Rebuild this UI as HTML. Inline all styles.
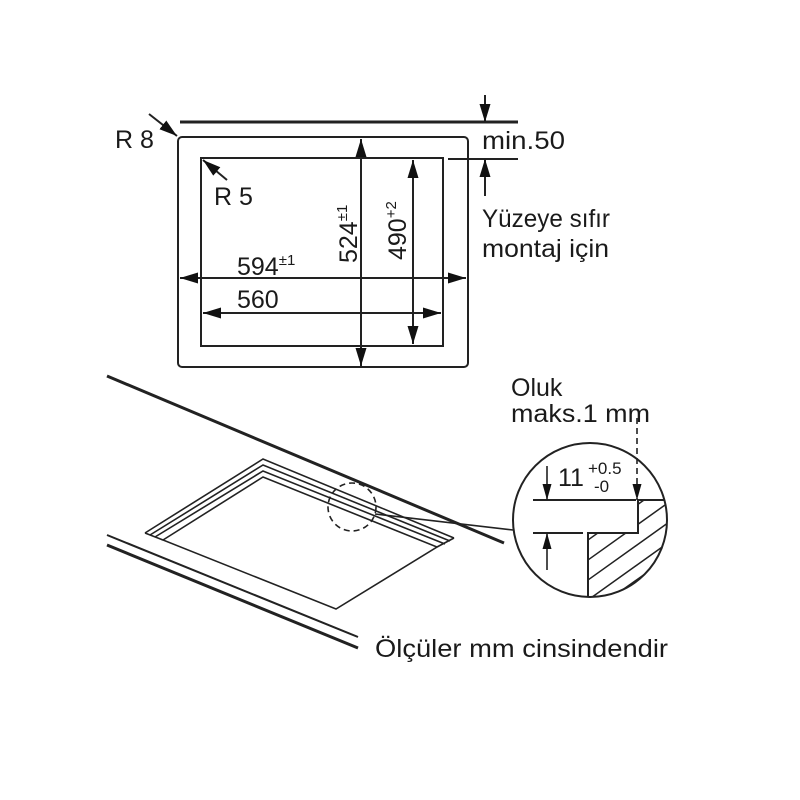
<!DOCTYPE html>
<html><head><meta charset="utf-8"><style>
html,body{margin:0;padding:0;background:#fff;}
svg{display:block;}
text{font-family:"Liberation Sans",Arial,sans-serif;fill:#1a1a1a;}
</style></head><body>
<svg width="800" height="800" viewBox="0 0 800 800" xmlns="http://www.w3.org/2000/svg">
<defs>
<marker id="a" markerWidth="16" markerHeight="12" refX="16" refY="6" orient="auto-start-reverse" markerUnits="userSpaceOnUse">
<path d="M0,1.5 L16,6 L0,10.5 Z" fill="#111"/></marker>
<marker id="b" markerWidth="18" markerHeight="12" refX="18" refY="6" orient="auto-start-reverse" markerUnits="userSpaceOnUse">
<path d="M0,0.5 L18,6 L0,11.5 Z" fill="#111"/></marker>
<clipPath id="cc"><circle cx="590" cy="520" r="77"/></clipPath>
<clipPath id="hc"><path d="M588,620 L588,533 L638,533 L638,500 L700,500 L700,620 Z"/></clipPath>
</defs>
<g stroke="#222" fill="none">
<line x1="180" y1="122" x2="518" y2="122" stroke-width="3"/>
<rect x="178" y="137" width="290" height="230" rx="4" stroke-width="2"/>
<rect x="201" y="158" width="242" height="188" stroke-width="2"/>
<line x1="448" y1="159" x2="518" y2="159" stroke-width="2"/>
<line x1="485" y1="95" x2="485" y2="122" stroke-width="2" marker-end="url(#b)"/>
<line x1="485" y1="196" x2="485" y2="159" stroke-width="2" marker-end="url(#b)"/>
<line x1="149" y1="114" x2="177" y2="136" stroke-width="2" marker-end="url(#b)"/>
<line x1="227" y1="180" x2="203" y2="160" stroke-width="2" marker-end="url(#b)"/>
<line x1="180" y1="278" x2="466" y2="278" stroke-width="2" marker-start="url(#b)" marker-end="url(#b)"/>
<line x1="203" y1="313" x2="441" y2="313" stroke-width="2" marker-start="url(#b)" marker-end="url(#b)"/>
<line x1="361" y1="139" x2="361" y2="366" stroke-width="2" marker-start="url(#b)" marker-end="url(#b)"/>
<line x1="413" y1="160" x2="413" y2="344" stroke-width="2" marker-start="url(#b)" marker-end="url(#b)"/>
<line x1="107" y1="376" x2="504" y2="543" stroke-width="3"/>
<line x1="107" y1="535" x2="358" y2="637" stroke-width="2"/>
<line x1="107" y1="545" x2="358" y2="648" stroke-width="3"/>
<polyline points="145,533 263,459 454,538" stroke-width="1.6"/>
<polyline points="150,535 263,465 450,541" stroke-width="1.6"/>
<polyline points="155,537 263,471 445,544" stroke-width="1.6"/>
<polygon points="163,540 263,477 437,547 336,609" stroke-width="1.6"/>
<line x1="145" y1="533" x2="163" y2="540" stroke-width="1.6"/>
<line x1="454" y1="538" x2="437" y2="547" stroke-width="1.6"/>
<circle cx="352" cy="507" r="24" stroke-width="1.6" stroke-dasharray="6,4"/>
<line x1="375" y1="514" x2="513" y2="530" stroke-width="1.6"/>
<g clip-path="url(#cc)">
<g clip-path="url(#hc)" stroke-width="1.5">
<line x1="560" y1="620" x2="700" y2="520"/>
<line x1="560" y1="600" x2="700" y2="500"/>
<line x1="560" y1="580" x2="700" y2="480"/>
<line x1="560" y1="560" x2="700" y2="460"/>
<line x1="560" y1="540" x2="700" y2="440"/>
<line x1="580" y1="620" x2="700" y2="535"/>
<line x1="600" y1="620" x2="700" y2="550"/>
</g>
<path d="M588,600 L588,533 L638,533 L638,500 L680,500" stroke-width="2"/>
</g>
<circle cx="590" cy="520" r="77" stroke-width="2"/>
<line x1="533" y1="500" x2="636" y2="500" stroke-width="2"/>
<line x1="533" y1="533" x2="583" y2="533" stroke-width="2"/>
<line x1="547" y1="466" x2="547" y2="500" stroke-width="1.6" marker-end="url(#a)"/>
<line x1="547" y1="570" x2="547" y2="533" stroke-width="1.6" marker-end="url(#a)"/>
<line x1="637" y1="418" x2="637" y2="500" stroke-width="1.6" stroke-dasharray="6,4" marker-end="url(#a)"/>
</g>
<g font-size="25">
<text x="115" y="148">R 8</text>
<text x="214" y="205">R 5</text>
<text x="482" y="149" textLength="83" lengthAdjust="spacingAndGlyphs">min.50</text>
<text x="482" y="227" textLength="128" lengthAdjust="spacingAndGlyphs">Yüzeye sıfır</text>
<text x="482" y="257" textLength="127" lengthAdjust="spacingAndGlyphs">montaj için</text>
<text x="237" y="275">594<tspan font-size="15" dy="-10">±1</tspan></text>
<text x="237" y="308">560</text>
<text transform="translate(357,263) rotate(-90)">524<tspan font-size="15" dy="-10">±1</tspan></text>
<text transform="translate(406,260) rotate(-90)">490<tspan font-size="15" dy="-10">+2</tspan></text>
<text x="511" y="396">Oluk</text>
<text x="511" y="422" textLength="139" lengthAdjust="spacingAndGlyphs">maks.1 mm</text>
<text x="558" y="486">11</text>
<text x="588" y="474" font-size="17">+0.5</text>
<text x="594" y="492" font-size="17">-0</text>
<text x="375" y="657" textLength="293" lengthAdjust="spacingAndGlyphs">Ölçüler mm cinsindendir</text>
</g>
</svg>
</body></html>
